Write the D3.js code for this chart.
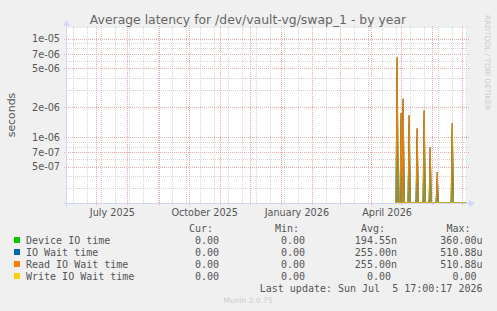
<!DOCTYPE html>
<html>
<head>
<meta charset="utf-8">
<script src="https://cdn.jsdelivr.net/npm/d3@7"></script>
<style>
  body{margin:0;background:#f0f0f0;}
  svg{display:block;}
  .mono{font-family:"DejaVu Sans Mono",monospace;font-size:10px;fill:#555;}
  .sans{font-family:"DejaVu Sans",sans-serif;}
</style>
</head>
<body>
<svg id="viz-svg" width="497" height="311"></svg>
<script>
var titleText = "Average latency for /dev/vault-vg/swap_1 - by year";
var rangeStart = "2025-06-01T17:00:17Z", rangeEnd = "2026-07-05T17:00:17Z";
var dataStart = "2026-04-26", dataEnd = "2026-07-05";   // days outside the spikes are 0
var spikeDates = ["2026-04-27","2026-05-01","2026-05-03","2026-05-09","2026-05-17",
                  "2026-05-24","2026-05-30","2026-06-06","2026-06-21"];
var deviceIO  = [5.2e-6,1.45e-6,2.0e-6,1.35e-6,1.0e-6,1.5e-6,6.4e-7,3.6e-7,1.15e-6];
var ioWait    = [6.48e-6,1.75e-6,2.45e-6,1.66e-6,1.22e-6,1.86e-6,7.84e-7,4.36e-7,1.39e-6];
var readWait  = [6.48e-6,1.75e-6,2.45e-6,1.66e-6,1.22e-6,1.86e-6,7.84e-7,4.36e-7,1.39e-6];
var writeWait = [0,0,0,0,0,0,0,0,0];
var seriesNames  = ["Device IO time","IO Wait time","Read IO Wait time","Write IO Wait time"];
var seriesColors = ["#00cc00","#0066b3","#ff8000","#ffcc00"];
var curVals = ["0.00","0.00","0.00","0.00"];
var minVals = ["0.00","0.00","0.00","0.00"];
var avgVals = ["194.55n","255.00n","255.00n","0.00"];
var maxVals = ["360.00u","510.88u","510.88u","0.00"];
var yTicks = [1e-5,7e-6,5e-6,2e-6,1e-6,7e-7,5e-7];
var yMinor = [9e-6,8e-6,6e-6,4e-6,3e-6,9e-7,8e-7,6e-7,4e-7,3e-7];
var yDomain = [2.13e-7,1.29e-5];
var monthLabels = ["2025-07-01","2025-10-01","2026-01-01","2026-04-01"];
var weekAnchor = "2026-04-26";
var lastUpdate = "Last update: Sun Jul\u00a0\u00a05 17:00:17 2026";

function drawChart(){
  var svg = d3.select("#viz-svg")
    , left = 67, right = 467, top = 28, bottom = 203
    , mgridColor = "#eba9a9", gridColor = "#d4d4d4", axisColor = "#cfd6f8";

  var x = d3.scaleUtc()
    .domain([new Date(rangeStart), new Date(rangeEnd)])
    .range([left, right]);
  var y = d3.scaleLog()
    .domain(yDomain)
    .range([bottom, top]);

  // canvas
  svg.append("rect")
    .attr("x",left).attr("y",top)
    .attr("width",right-left).attr("height",bottom-top)
    .attr("fill","#fff");

  var grid = svg.append("g").attr("stroke-dasharray","1,1").attr("fill","none");

  // minor horizontal
  grid.selectAll(".hminor").data(yMinor).enter().append("line")
    .attr("x1",left).attr("x2",right)
    .attr("y1",function(d){return Math.round(y(d))+0.5})
    .attr("y2",function(d){return Math.round(y(d))+0.5})
    .attr("stroke",gridColor);

  // two-week vertical lines
  var anchor = new Date(weekAnchor);
  var weeks = d3.utcSunday.range(x.domain()[0], x.domain()[1]).filter(function(d){
    var n = Math.round(d3.utcDay.count(d, anchor));
    return ((n % 14) + 14) % 14 === 0;
  });
  grid.selectAll(".vminor").data(weeks).enter().append("line")
    .attr("x1",function(d){return Math.round(x(d))+0.5})
    .attr("x2",function(d){return Math.round(x(d))+0.5})
    .attr("y1",top-2).attr("y2",bottom)
    .attr("stroke",gridColor);

  // major horizontal
  grid.selectAll(".hmajor").data(yTicks).enter().append("line")
    .attr("x1",left-3).attr("x2",right+2)
    .attr("y1",function(d){return Math.round(y(d))+0.5})
    .attr("y2",function(d){return Math.round(y(d))+0.5})
    .attr("stroke",mgridColor);

  // month lines
  var months = d3.utcMonth.range(x.domain()[0], x.domain()[1]);
  grid.selectAll(".vmajor").data(months).enter().append("line")
    .attr("x1",function(d){return Math.round(x(d))+0.5})
    .attr("x2",function(d){return Math.round(x(d))+0.5})
    .attr("y1",top-2).attr("y2",bottom+3)
    .attr("stroke",mgridColor);

  // y labels
  svg.selectAll(".ylab").data(yTicks).enter().append("text")
    .attr("class","sans")
    .attr("x",60)
    .attr("y",function(d){return y(d)})
    .attr("dy","0.36em")
    .attr("text-anchor","end")
    .attr("font-size","9.7px")
    .attr("fill","#555")
    .text(function(d){return d3.format(".0e")(d).replace(/e([+-])(\d)$/,"e$10$2")});

  // x labels (centered mid-month)
  var fmt = d3.utcFormat("%B %Y");
  svg.selectAll(".xlab").data(monthLabels).enter().append("text")
    .attr("class","sans")
    .attr("x",function(d){return x(d3.utcDay.offset(new Date(d),16))})
    .attr("y",216)
    .attr("text-anchor","middle")
    .attr("font-size","9.7px")
    .attr("fill","#555")
    .text(function(d){return fmt(new Date(d))});

  // series
  var days = d3.utcDay.range(new Date(dataStart), d3.utcDay.offset(new Date(dataEnd),1));
  var seriesVals = [deviceIO, ioWait, readWait, writeWait];
  var line = d3.line()
    .x(function(d){return x(d.date)})
    .y(function(d){return d.value > 0 ? y(d.value) : bottom});
  seriesVals.forEach(function(vals, i){
    var lookup = {};
    spikeDates.forEach(function(s, j){ lookup[s] = vals[j]; });
    var pts = days.map(function(d){
      return {date:d, value: lookup[d3.utcFormat("%Y-%m-%d")(d)] || 0};
    });
    svg.append("path")
      .datum(pts)
      .attr("d",line)
      .attr("fill","none")
      .attr("stroke",seriesColors[i])
      .attr("stroke-width",i===0 ? 1.4 : 1);
  });

  // axes + arrows
  svg.append("line")
    .attr("x1",left-4).attr("x2",right+3)
    .attr("y1",bottom+0.5).attr("y2",bottom+0.5)
    .attr("stroke",axisColor);
  svg.append("line")
    .attr("x1",left-0.5).attr("x2",left-0.5)
    .attr("y1",bottom+4).attr("y2",top-3)
    .attr("stroke",axisColor);
  svg.append("path")
    .attr("d","M"+(right+2)+","+(bottom-3)+"L"+(right+8)+","+(bottom+0.5)+"L"+(right+2)+","+(bottom+4)+"Z")
    .attr("fill",axisColor);
  svg.append("path")
    .attr("d","M"+(left-4)+","+(top-2)+"L"+(left-0.5)+","+(top-8)+"L"+(left+3)+","+(top-2)+"Z")
    .attr("fill",axisColor);

  // title and side texts
  svg.append("text")
    .attr("class","sans")
    .attr("x",248).attr("y",23.5)
    .attr("text-anchor","middle")
    .attr("font-size","12.4px")
    .attr("fill","#666")
    .text(titleText);
  svg.append("text")
    .attr("class","sans")
    .attr("transform","translate(15,115) rotate(-90)")
    .attr("text-anchor","middle")
    .attr("font-size","10.9px")
    .attr("fill","#555")
    .text("seconds");
  svg.append("text")
    .attr("class","sans")
    .attr("transform","translate(485,15) rotate(90)")
    .attr("font-size","7.4px")
    .attr("fill","#ccc")
    .text("RRDTOOL / TOBI OETIKER");

  drawLegend(svg);
}//drawChart()

function drawLegend(svg){
  var legend = svg.append("g").attr("id","legend-container")
    , rowY = 243.5, rowSpace = 12
    , colEnds = [225, 311, 397, 482.5]
    , headers = ["Cur:","Min:","Avg:","Max:"]
    , cols = [curVals, minVals, avgVals, maxVals];

  function pad(s){ return /[a-z]$/.test(s) ? s : s + "\u00a0"; }

  headers.forEach(function(h, c){
    legend.append("text")
      .attr("class","mono")
      .attr("x",colEnds[c]).attr("y",rowY-rowSpace)
      .attr("text-anchor","end")
      .text(h + "\u00a0\u00a0");
  });

  seriesNames.forEach(function(name, i){
    var yy = rowY + i*rowSpace;
    legend.append("rect")
      .attr("x",14).attr("y",yy-6.5)
      .attr("width",6).attr("height",6)
      .attr("fill",seriesColors[i]);
    legend.append("text")
      .attr("class","mono")
      .attr("x",26).attr("y",yy)
      .text(name);
    cols.forEach(function(vals, c){
      legend.append("text")
        .attr("class","mono")
        .attr("x",colEnds[c]).attr("y",yy)
        .attr("text-anchor","end")
        .text(pad(vals[i]));
    });
  });

  legend.append("text")
    .attr("class","mono")
    .attr("x",482.5).attr("y",rowY + 4*rowSpace)
    .attr("text-anchor","end")
    .text(lastUpdate);

  legend.append("text")
    .attr("class","sans")
    .attr("x",248).attr("y",303)
    .attr("text-anchor","middle")
    .attr("font-size","7.5px")
    .attr("fill","#ccc")
    .text("Munin 2.0.75");
}//drawLegend()

drawChart();
</script>
</body>
</html>
